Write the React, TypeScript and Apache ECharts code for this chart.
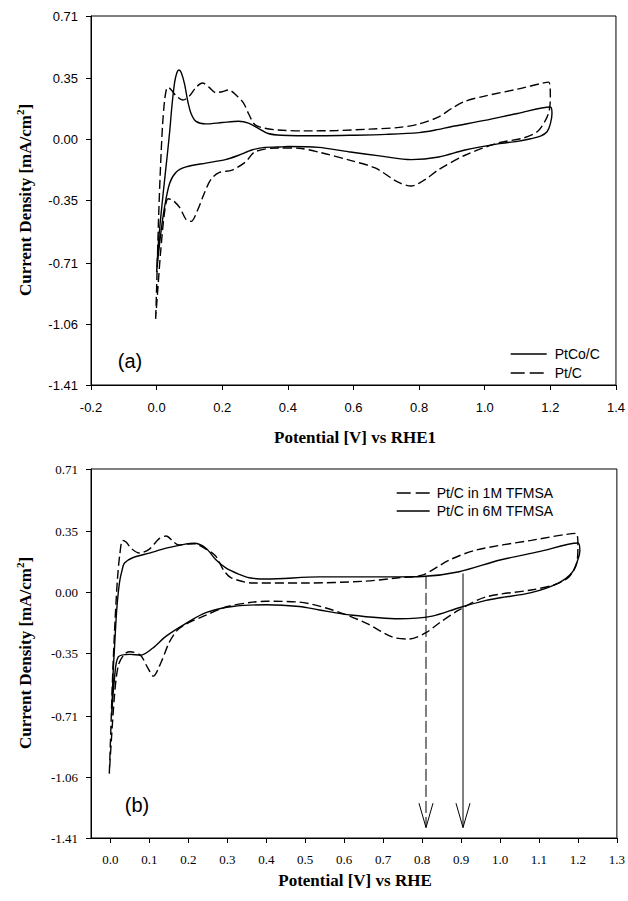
import React, { useEffect, useRef } from "react";
import * as echarts from "echarts";

// ---------- tick labels ----------
const yTicks = [-1.41, -1.06, -0.71, -0.35, 0.0, 0.35, 0.71];
const topXTicks = [-0.2, 0.0, 0.2, 0.4, 0.6, 0.8, 1.0, 1.2, 1.4];
const bottomXTicks = [0.0, 0.1, 0.2, 0.3, 0.4, 0.5, 0.6, 0.7, 0.8, 0.9, 1.0, 1.1, 1.2, 1.3];

// ---------- panel (a): PtCo/C (solid) ----------
const ptcoV = [
  0.0, 0.006, 0.015, 0.025, 0.033, 0.04, 0.047, 0.055, 0.062, 0.068, 0.075, 0.085, 0.095, 0.105, 0.12, 0.15,
  0.2, 0.25, 0.28, 0.31, 0.34, 0.38, 0.5, 0.6, 0.7, 0.8, 0.85, 0.9, 1.0, 1.1, 1.2,
  1.205, 1.2, 1.19, 1.17, 1.14, 1.1, 1.04, 0.94, 0.86, 0.776, 0.685, 0.585, 0.494, 0.4, 0.37, 0.33, 0.29,
  0.25, 0.21, 0.15, 0.09, 0.06, 0.04, 0.024, 0.012, 0.0,
];
const ptcoI = [
  -0.76, -0.58, -0.4, -0.22, -0.08, 0.05, 0.2, 0.33, 0.385, 0.4, 0.385, 0.32, 0.22, 0.15, 0.105, 0.09,
  0.098, 0.105, 0.095, 0.065, 0.035, 0.025, 0.022, 0.025, 0.03, 0.04, 0.055, 0.075, 0.11, 0.15, 0.187,
  0.15, 0.09, 0.045, 0.02, 0.005, -0.01, -0.025, -0.06, -0.1, -0.115, -0.095, -0.07, -0.045, -0.04, -0.043, -0.045, -0.06,
  -0.09, -0.115, -0.135, -0.157, -0.186, -0.25, -0.39, -0.55, -0.76,
];

// ---------- panel (a): Pt/C (dashed) ----------
const ptcV = [
  -0.003, 0.0, 0.006, 0.012, 0.018, 0.024, 0.03, 0.035, 0.045, 0.06, 0.08, 0.1, 0.12, 0.14, 0.16, 0.18, 0.2,
  0.22, 0.245, 0.265, 0.28, 0.3, 0.33, 0.37, 0.45, 0.55, 0.65, 0.74, 0.8, 0.86, 0.9, 0.94, 1.0, 1.1, 1.195,
  1.2, 1.197, 1.185, 1.16, 1.12, 1.04, 0.94, 0.858, 0.818, 0.776, 0.736, 0.666, 0.585, 0.5, 0.433, 0.37, 0.3,
  0.27, 0.23, 0.19, 0.165, 0.145, 0.125, 0.105, 0.09, 0.07, 0.05, 0.035, 0.024, 0.012, 0.004, -0.003,
];
const ptcI = [
  -1.03, -0.85, -0.45, -0.15, 0.08, 0.22, 0.29, 0.3, 0.285, 0.25, 0.227, 0.25, 0.3, 0.325, 0.3, 0.27, 0.275,
  0.285, 0.25, 0.21, 0.15, 0.085, 0.065, 0.055, 0.05, 0.052, 0.06, 0.07, 0.09, 0.13, 0.18, 0.22, 0.25, 0.29, 0.33,
  0.25, 0.17, 0.11, 0.045, 0.01, -0.02, -0.09, -0.175, -0.23, -0.267, -0.245, -0.163, -0.117, -0.075, -0.05, -0.048, -0.07,
  -0.13, -0.175, -0.19, -0.23, -0.31, -0.405, -0.47, -0.46, -0.39, -0.35, -0.34, -0.42, -0.65, -0.85, -1.03,
];

// ---------- panel (b): Pt/C in 1M TFMSA (dashed) ----------
const m1V = [
  -0.003, 0.0, 0.006, 0.012, 0.018, 0.024, 0.031, 0.04, 0.055, 0.074, 0.1, 0.125, 0.143, 0.16, 0.175, 0.195,
  0.215, 0.245, 0.27, 0.29, 0.31, 0.365, 0.5, 0.65, 0.74, 0.8, 0.87, 0.94, 1.08, 1.195,
  1.2, 1.197, 1.177, 1.14, 1.08, 0.964, 0.895, 0.844, 0.81, 0.767, 0.723, 0.656, 0.57, 0.485, 0.4, 0.365, 0.3,
  0.245, 0.195, 0.17, 0.15, 0.13, 0.11, 0.095, 0.077, 0.05, 0.035, 0.02, 0.01, -0.003,
];
const m1I = [
  -1.04, -0.85, -0.45, -0.15, 0.08, 0.22, 0.3, 0.29, 0.25, 0.227, 0.25, 0.31, 0.325, 0.295, 0.273, 0.279,
  0.28, 0.25, 0.21, 0.13, 0.085, 0.055, 0.055, 0.065, 0.085, 0.1, 0.187, 0.245, 0.3, 0.34,
  0.275, 0.17, 0.09, 0.045, 0.015, -0.025, -0.1, -0.175, -0.23, -0.267, -0.255, -0.175, -0.1, -0.055, -0.05, -0.055, -0.08,
  -0.13, -0.18, -0.22, -0.29, -0.4, -0.48, -0.43, -0.36, -0.34, -0.355, -0.42, -0.6, -1.04,
];

// ---------- panel (b): Pt/C in 6M TFMSA (solid) ----------
const m6V = [
  0.003, 0.007, 0.01, 0.016, 0.023, 0.03, 0.036, 0.057, 0.1, 0.143, 0.195, 0.215, 0.245, 0.27, 0.297, 0.33,
  0.356, 0.4, 0.536, 0.74, 0.8, 0.895, 1.0, 1.1, 1.2,
  1.205, 1.2, 1.185, 1.15, 1.08, 1.0, 0.964, 0.895, 0.826, 0.74, 0.613, 0.536, 0.485, 0.4, 0.313, 0.245,
  0.195, 0.143, 0.108, 0.077, 0.05, 0.02, 0.01, 0.003,
];
const m6I = [
  -0.71, -0.45, -0.33, -0.1, 0.055, 0.13, 0.17, 0.2, 0.227, 0.255, 0.28, 0.283, 0.255, 0.19, 0.14, 0.105,
  0.085, 0.078, 0.09, 0.09, 0.092, 0.12, 0.187, 0.235, 0.285,
  0.24, 0.19, 0.115, 0.055, 0.0, -0.03, -0.045, -0.087, -0.135, -0.15, -0.128, -0.1, -0.08, -0.07, -0.08, -0.115,
  -0.175, -0.25, -0.32, -0.36, -0.355, -0.37, -0.5, -0.71,
];

// ---------- panel (b): arrows ----------
const arrowX = [0.81, 0.905];
const arrowTopI = [0.09, 0.11];
const arrowTipI = -1.35;
const arrowHeadI = -1.21;
const arrowHalfW = 0.018;

const zip = (xs: number[], ys: number[]) => xs.map((x, i) => [x, ys[i]]);

const SANS = "Liberation Sans, Arial, sans-serif";
const SERIF = "Liberation Serif, Times New Roman, serif";

function xAxisOf(grid: number, min: number, max: number, ticks: number[], font: string, margin: number) {
  return {
    type: "value",
    gridIndex: grid,
    min,
    max,
    axisLine: { onZero: false, lineStyle: { color: "#000", width: 1 } },
    axisTick: { show: true, inside: false, length: 5, customValues: ticks, lineStyle: { color: "#000" } },
    axisLabel: {
      customValues: ticks,
      formatter: (v: number) => v.toFixed(1),
      fontFamily: font,
      fontSize: 13,
      color: "#000",
      margin,
    },
    splitLine: { show: false },
  };
}

function yAxisOf(grid: number, font: string) {
  return {
    type: "value",
    gridIndex: grid,
    min: -1.41,
    max: 0.71,
    axisLine: { onZero: false, lineStyle: { color: "#000", width: 1 } },
    axisTick: { show: true, inside: false, length: 5, customValues: yTicks, lineStyle: { color: "#000" } },
    axisLabel: {
      customValues: yTicks,
      formatter: (v: number) => v.toFixed(2),
      fontFamily: font,
      fontSize: 13,
      color: "#000",
      margin: 13,
    },
    splitLine: { show: false },
  };
}

function curve(name: string, grid: number, xs: number[], ys: number[], dashed: boolean) {
  return {
    name,
    type: "line",
    xAxisIndex: grid,
    yAxisIndex: grid,
    data: zip(xs, ys),
    symbol: "none",
    showSymbol: false,
    smooth: 0.3,
    lineStyle: { color: "#000", width: 1.4, type: dashed ? [9, 4] : "solid" },
    itemStyle: { color: "#000" },
    silent: true,
  };
}

function arrowSeries(i: number, dashed: boolean) {
  const x = arrowX[i];
  const style = { color: "#000", width: 1, type: dashed ? [12, 4] : "solid" };
  return [
    {
      type: "line",
      xAxisIndex: 1,
      yAxisIndex: 1,
      data: [
        [x, arrowTopI[i]],
        [x, arrowTipI],
      ],
      symbol: "none",
      lineStyle: style,
      silent: true,
    },
    {
      type: "line",
      xAxisIndex: 1,
      yAxisIndex: 1,
      data: [
        [x - arrowHalfW, arrowHeadI],
        [x, arrowTipI],
        [x + arrowHalfW, arrowHeadI],
      ],
      symbol: "none",
      lineStyle: { color: "#000", width: 1, type: "solid" },
      silent: true,
    },
  ];
}

const yTitle = (y: number) => ({
  type: "text",
  x: 25,
  y,
  rotation: Math.PI / 2,
  style: {
    text: "Current Density [mA/cm{sup|2}]",
    font: `bold 17px ${SERIF}`,
    fill: "#000",
    align: "center",
    verticalAlign: "middle",
    lineHeight: 22,
    rich: {
      sup: { fontSize: 11, fontWeight: "bold", fontFamily: SERIF, verticalAlign: "top", lineHeight: 22 },
    },
  },
});

const legendBase = {
  orient: "vertical",
  itemHeight: 14,
  selectedMode: false,
  itemStyle: { color: "rgba(0,0,0,0)", borderColor: "rgba(0,0,0,0)", borderWidth: 0 },
  lineStyle: { color: "#000", width: 1.4, inactiveColor: "#000" },
};

const legendDash = { lineStyle: { type: [14, 5] } };

export default function App() {
  const ref = useRef<HTMLDivElement>(null);
  useEffect(() => {
    if (!ref.current) return;
    const chart = echarts.init(ref.current, undefined, { renderer: "svg" });
    chart.setOption({
      animation: false,
      backgroundColor: "#fff",
      grid: [
        { left: 91, top: 16, width: 528, height: 369, show: true, borderColor: "#000", borderWidth: 1 },
        { left: 91, top: 469, width: 527, height: 369, show: true, borderColor: "#000", borderWidth: 1 },
      ],
      xAxis: [
        xAxisOf(0, -0.2, 1.4, topXTicks, SANS, 16),
        xAxisOf(1, -0.05, 1.3, bottomXTicks, SERIF, 15),
      ],
      yAxis: [yAxisOf(0, SANS), yAxisOf(1, SERIF)],
      legend: [
        {
          ...legendBase,
          data: ["PtCo/C", { name: "Pt/C", ...legendDash }],
          left: 505,
          top: 342,
          itemWidth: 36,
          itemGap: 5,
          textStyle: { fontFamily: SANS, fontSize: 14, color: "#000", padding: [0, 0, 0, 3] },
        },
        {
          ...legendBase,
          data: [{ name: "Pt/C in 1M TFMSA", ...legendDash }, "Pt/C in 6M TFMSA"],
          left: 391,
          top: 481,
          itemWidth: 33,
          itemGap: 4,
          textStyle: { fontFamily: SANS, fontSize: 14, color: "#000", padding: [0, 0, 0, 2] },
        },
      ],
      series: [
        curve("PtCo/C", 0, ptcoV, ptcoI, false),
        curve("Pt/C", 0, ptcV, ptcI, true),
        curve("Pt/C in 1M TFMSA", 1, m1V, m1I, true),
        curve("Pt/C in 6M TFMSA", 1, m6V, m6I, false),
        ...arrowSeries(0, true),
        ...arrowSeries(1, false),
      ],
      graphic: [
        yTitle(200),
        yTitle(653),
        {
          type: "text",
          x: 355,
          y: 437,
          style: { text: "Potential [V] vs RHE1", font: `bold 17px ${SERIF}`, fill: "#000", align: "center", verticalAlign: "middle" },
        },
        {
          type: "text",
          x: 355,
          y: 880,
          style: { text: "Potential [V] vs RHE", font: `bold 17px ${SERIF}`, fill: "#000", align: "center", verticalAlign: "middle" },
        },
        {
          type: "text",
          x: 130,
          y: 361,
          style: { text: "(a)", font: `20px ${SANS}`, fill: "#000", align: "center", verticalAlign: "middle" },
        },
        {
          type: "text",
          x: 137,
          y: 805,
          style: { text: "(b)", font: `20px ${SANS}`, fill: "#000", align: "center", verticalAlign: "middle" },
        },
      ],
    });
    return () => chart.dispose();
  }, []);
  return (
    <div
      ref={ref}
      style={{ position: "absolute", left: 0, top: 0, width: 628, height: 901, background: "#fff" }}
    />
  );
}
